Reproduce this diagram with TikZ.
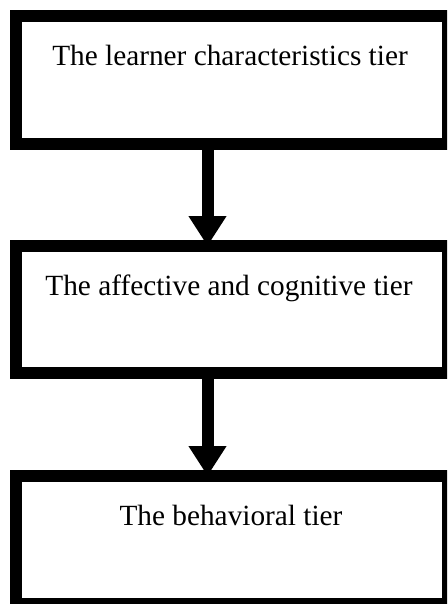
\documentclass[tikz,border=0pt]{standalone}
\usepackage{fontspec}
\setmainfont{Liberation Serif}
\usetikzlibrary{arrows.meta}
\begin{document}
\begin{tikzpicture}[x=1pt,y=-1pt,
  tierbox/.style={draw=black,line width=12pt,fill=white,minimum width=432pt,inner sep=0pt,outer sep=0pt},
  tiertext/.style={anchor=base,inner sep=0pt,font=\fontsize{29.3}{34}\selectfont},
  arr/.style={line width=12pt,-{Triangle[width=36pt,length=30pt]}}]
\useasboundingbox (0,0) rectangle (447,604);
\begin{scope}
\clip (0,0) rectangle (447,604);
\node[tierbox,minimum height=128pt] (b1) at (232,80) {};
\node[tierbox,minimum height=127pt] (b2) at (232,309.5) {};
\node[tierbox,minimum height=128pt] (b3) at (232,540) {};
\end{scope}
\node[tiertext] (t1) at (230,65.5) {The learner characteristics tier};
\node[tiertext] (t2) at (229,295.5) {The affective and cognitive tier};
\node[tiertext] (t3) at (231,525.5) {The behavioral tier};
\draw[arr] ([xshift=-24.5pt]b1.south) -- ([xshift=-24.5pt]b2.north);
\draw[arr] ([xshift=-24.5pt]b2.south) -- ([xshift=-24.5pt]b3.north);
\end{tikzpicture}
\end{document}
